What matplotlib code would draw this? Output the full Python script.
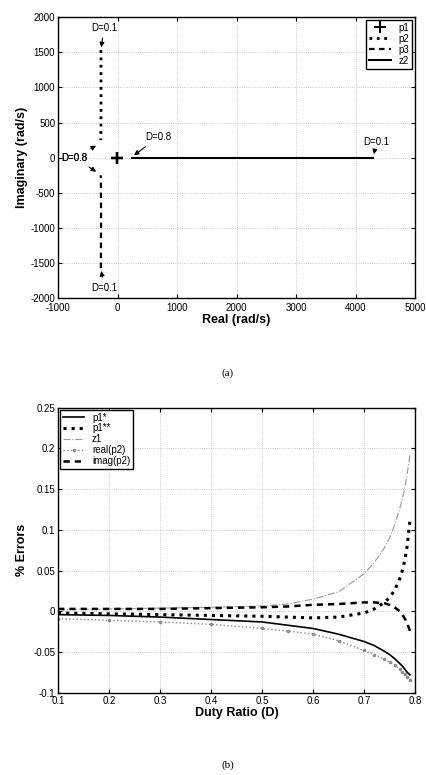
import matplotlib
matplotlib.use("Agg")
import matplotlib.pyplot as plt

plt.rcParams['font.family'] = ['Liberation Sans', 'DejaVu Sans']
plt.rcParams['axes.unicode_minus'] = False

# (a) pole / zero loci, D = 0.1 ... 0.8
duty_a = [0.1, 0.2, 0.3, 0.4, 0.5, 0.6, 0.7, 0.8]
p1_re = [-14, -14, -14, -14, -14, -14, -14, -14]
p1_im = [0, 0, 0, 0, 0, 0, 0, 0]
p2_re = [-280, -279, -279, -278, -278, -279, -280, -282]
p2_im = [1530, 1340, 1150, 960, 770, 590, 410, 250]
p3_re = [-280, -279, -279, -278, -278, -279, -280, -282]
p3_im = [-1570, -1370, -1170, -980, -790, -600, -420, -250]
z2_re = [4300, 3400, 2600, 1910, 1330, 850, 480, 238]
z2_im = [0, 0, 0, 0, 0, 0, 0, 0]

# (b) % errors vs duty ratio
duty_b = [0.1, 0.2, 0.3, 0.4, 0.5, 0.55, 0.6, 0.65, 0.7, 0.72, 0.74, 0.75, 0.76, 0.77, 0.775, 0.78, 0.785, 0.79]
err_p1s = [-0.004, -0.005, -0.007, -0.010, -0.013, -0.017, -0.021, -0.028, -0.037, -0.042, -0.049, -0.053, -0.058, -0.064, -0.067, -0.071, -0.075, -0.078]
err_p1ss = [-0.002, -0.003, -0.004, -0.005, -0.006, -0.007, -0.008, -0.007, -0.002, 0.003, 0.011, 0.017, 0.026, 0.040, 0.050, 0.063, 0.082, 0.112]
err_z1 = [0.002, 0.003, 0.004, 0.005, 0.0065, 0.009, 0.015, 0.024, 0.046, 0.060, 0.078, 0.090, 0.106, 0.126, 0.138, 0.152, 0.170, 0.192]
err_rep2 = [-0.009, -0.011, -0.013, -0.016, -0.021, -0.024, -0.028, -0.036, -0.048, -0.053, -0.059, -0.062, -0.066, -0.071, -0.074, -0.077, -0.080, -0.084]
err_imp2 = [0.003, 0.003, 0.003, 0.004, 0.005, 0.006, 0.008, 0.009, 0.011, 0.011, 0.010, 0.008, 0.005, 0.000, -0.004, -0.009, -0.015, -0.024]

fig = plt.figure(figsize=(4.27, 7.75), dpi=100)

def style(ax):
    ax.tick_params(direction='in', labelsize=7, length=3, top=True, right=True, pad=2)
    ax.grid(True, linestyle=':', color='#bbbbbb', linewidth=0.6)
    for s in ax.spines.values():
        s.set_linewidth(1.0)

# ---- (a)
ax1 = fig.add_axes([0.136, 0.615, 0.836, 0.363])
ax1.plot(p1_re, p1_im, '+', color='black', markersize=8, mew=1.5, label='p1')
ax1.plot(p2_re, p2_im, ':', color='black', linewidth=2, label='p2')
ax1.plot(p3_re, p3_im, '--', color='black', linewidth=1.6, dashes=(2.5, 2), label='p3')
ax1.plot(z2_re, z2_im, '-', color='black', linewidth=1.5, label='z2')
ax1.set_xlim(-1000, 5000)
ax1.set_ylim(-2000, 2000)
ax1.set_xticks(range(-1000, 5001, 1000))
ax1.set_yticks(range(-2000, 2001, 500))
style(ax1)
ax1.tick_params(axis='x', pad=3)
ax1.set_xlabel('Real (rad/s)', fontsize=9, fontweight='bold', labelpad=1)
ax1.set_ylabel('Imaginary (rad/s)', fontsize=9, fontweight='bold', labelpad=2)
ax1.legend(loc='upper right', fontsize=7, handlelength=2.2, borderpad=0.3,
           labelspacing=0.1, fancybox=False, edgecolor='black', framealpha=1,
           borderaxespad=0.3)

arr = dict(arrowstyle='-|>', color='black', lw=0.8, mutation_scale=7)
ax1.annotate('D=0.1', xy=(p2_re[0], p2_im[0]), xytext=(-230, 1850),
             ha='center', va='center', fontsize=7, arrowprops=arr)
ax1.annotate('D=0.1', xy=(p3_re[0], p3_im[0]), xytext=(-230, -1850),
             ha='center', va='center', fontsize=7, arrowprops=arr)
ax1.annotate('D=0.8', xy=(-320, 190), xytext=(-720, 0),
             ha='center', va='center', fontsize=7, arrowprops=arr)
ax1.annotate('D=0.8', xy=(-320, -220), xytext=(-720, 0),
             ha='center', va='center', fontsize=7, arrowprops=arr)
ax1.annotate('D=0.8', xy=(z2_re[-1], 10), xytext=(680, 290),
             ha='center', va='center', fontsize=7, arrowprops=arr)
ax1.annotate('D=0.1', xy=(z2_re[0], 10), xytext=(4350, 230),
             ha='center', va='center', fontsize=7, arrowprops=arr)

fig.text(0.534, 0.519, '(a)', ha='center', va='center', fontsize=8,
         family=['Liberation Serif', 'DejaVu Serif'])

# ---- (b)
ax2 = fig.add_axes([0.136, 0.106, 0.836, 0.368])
ax2.plot(duty_b, err_p1s, '-', color='black', linewidth=1.2, label='p1*')
ax2.plot(duty_b, err_p1ss, ':', color='black', linewidth=2.2, label='p1**')
ax2.plot(duty_b, err_z1, '-.', color='#999999', linewidth=0.8, label='z1')
ax2.plot(duty_b, err_rep2, ':', color='#888888', linewidth=1.0,
         marker='o', markersize=1.5, mfc='none', label='real(p2)')
ax2.plot(duty_b, err_imp2, '--', color='black', linewidth=1.8, dashes=(2.5, 2), label='imag(p2)')
ax2.set_xlim(0.1, 0.8)
ax2.set_ylim(-0.1, 0.25)
ax2.set_xticks([0.1, 0.2, 0.3, 0.4, 0.5, 0.6, 0.7, 0.8])
ax2.set_xticklabels(['0.1', '0.2', '0.3', '0.4', '0.5', '0.6', '0.7', '0.8'])
ax2.set_yticks([-0.1, -0.05, 0, 0.05, 0.1, 0.15, 0.2, 0.25])
ax2.set_yticklabels(['-0.1', '-0.05', '0', '0.05', '0.1', '0.15', '0.2', '0.25'])
style(ax2)
ax2.set_xlabel('Duty Ratio (D)', fontsize=9, fontweight='bold', labelpad=1)
ax2.set_ylabel('% Errors', fontsize=9, fontweight='bold', labelpad=4)
ax2.legend(loc='upper left', fontsize=7, handlelength=2.2, borderpad=0.3,
           labelspacing=0.1, fancybox=False, edgecolor='black', framealpha=1,
           borderaxespad=0.2)

fig.text(0.534, 0.006, '(b)', ha='center', va='bottom', fontsize=8,
         family=['Liberation Serif', 'DejaVu Serif'])

fig.savefig('out.png', dpi=100)
